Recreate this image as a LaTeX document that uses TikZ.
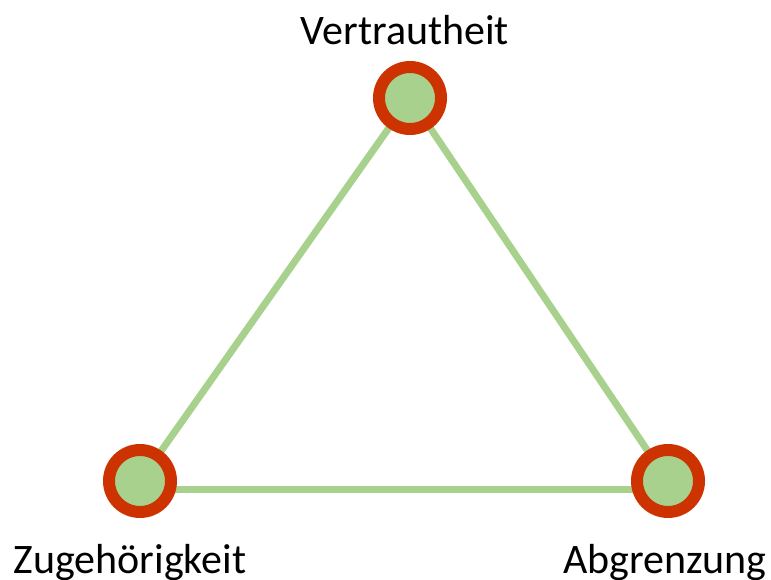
\documentclass[tikz,border=0pt]{standalone}
\usepackage{fontspec}
\setmainfont{Carlito}
\usetikzlibrary{backgrounds}
\definecolor{leafgreen}{HTML}{A9D18E}
\definecolor{rustred}{HTML}{CC3300}
\tikzset{
  vertex/.style={circle,minimum size=62*0.75pt,inner sep=0pt,fill=leafgreen,draw=rustred,line width=12*0.75pt},
  edge/.style={leafgreen,line width=7*0.75pt},
  label/.style={anchor=base,font=\fontsize{31.5}{36}\selectfont}
}
\begin{document}
\begin{tikzpicture}[x=0.75pt,y=-0.75pt]
\useasboundingbox (0,0) rectangle (771,580);

\node[vertex] (vert) at (410,98) {};
\node[vertex] (zug) at (140,481) {};
\node[vertex] (abg) at (668,481) {};

\begin{scope}[on background layer]
\draw[edge] (vert.center) -- (zug.center);
\draw[edge] (vert.center) -- (abg.center);
\draw[edge] ([yshift=-6.75pt]zug.center) -- ([yshift=-6.75pt]abg.center);
\end{scope}

\node[label] (vertlabel) at (405,45) {Vertrautheit};
\node[label] (zuglabel) at (130,573) {Zugehörigkeit};
\node[label] (abglabel) at (665,573) {Abgrenzung};
\end{tikzpicture}
\end{document}
